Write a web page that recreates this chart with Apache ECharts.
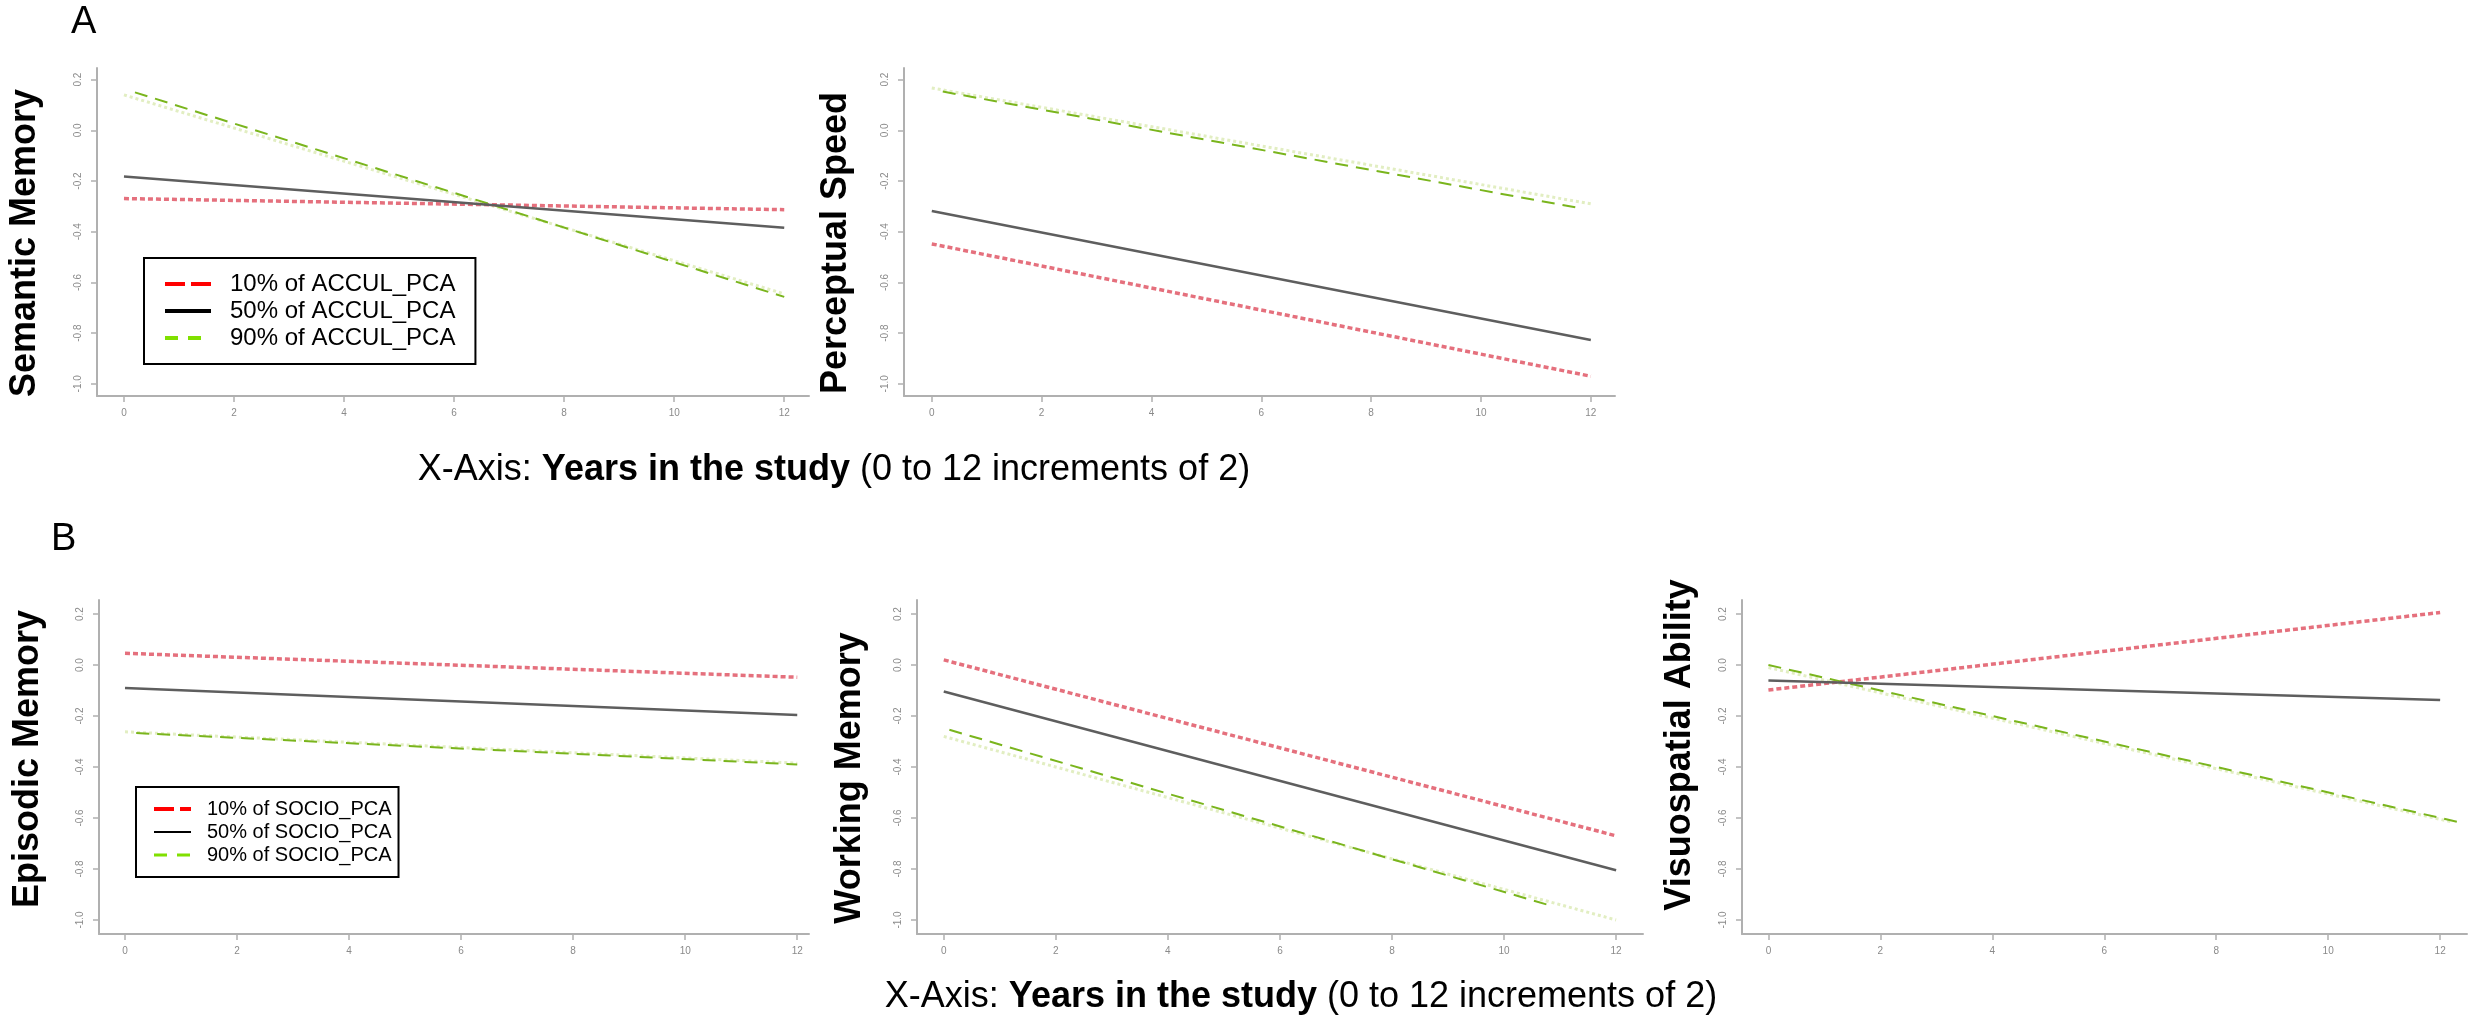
<!DOCTYPE html>
<html>
<head>
<meta charset="utf-8">
<title>Cognitive trajectories</title>
<script src="https://cdn.jsdelivr.net/npm/echarts@6/dist/echarts.min.js"></script>
<style>
  html, body { margin: 0; padding: 0; background: #fff; }
  #main { width: 2479px; height: 1018px; }
</style>
</head>
<body>
<div id="main"></div>
<script>
// tick labels
var xTicks = [0, 2, 4, 6, 8, 10, 12];
var yTicks = [0.2, 0, -0.2, -0.4, -0.6, -0.8, -1.0];

// legend names
var accNames = ['10% of ACCUL_PCA', '50% of ACCUL_PCA', '90% of ACCUL_PCA'];
var socNames = ['10% of SOCIO_PCA', '50% of SOCIO_PCA', '90% of SOCIO_PCA'];

// panel A: [year, value]
var semantic10 = [[0, -0.269], [12, -0.313]];
var semantic50 = [[0, -0.182], [12, -0.384]];
var semantic90 = [[0.2, 0.150], [12, -0.657]];
var semantic90band = [[0, 0.140], [12, -0.645]];

var speed10 = [[0, -0.448], [12, -0.970]];
var speed50 = [[0, -0.318], [12, -0.827]];
var speed90 = [[0.2, 0.153], [11.8, -0.307]];
var speed90band = [[0, 0.167], [12, -0.290]];

// panel B
var episodic10 = [[0, 0.046], [12, -0.048]];
var episodic50 = [[0, -0.090], [12, -0.196]];
var episodic90 = [[0.2, -0.267], [12, -0.390]];
var episodic90band = [[0, -0.262], [12, -0.385]];

var working10 = [[0, 0.020], [12, -0.670]];
var working50 = [[0, -0.104], [12, -0.805]];
var working90 = [[0.1, -0.254], [10.87, -0.946]];
var working90band = [[0, -0.280], [12, -1.000]];

var visuo10 = [[0, -0.098], [12, 0.206]];
var visuo50 = [[0, -0.061], [12, -0.137]];
var visuo90 = [[0, 0.000], [12.33, -0.616]];
var visuo90band = [[0, -0.010], [12.2, -0.615]];

var FONT = '"Liberation Sans", Arial, sans-serif';

var myChart = echarts.init(document.getElementById('main'));

// layout of the five plots
var panels = [
  {title: 'Semantic Memory', names: accNames, lines: [semantic10, semantic50, semantic90], band: semantic90band,
   left: 97, top: 68, width: 712, height: 328, xmin: -0.49, xmax: 12.45, ymin: -1.048, ymax: 0.246, lx: 25, ly: 243},
  {title: 'Perceptual Speed', names: accNames, lines: [speed10, speed50, speed90], band: speed90band,
   left: 904, top: 68, width: 711, height: 328, xmin: -0.506, xmax: 12.44, ymin: -1.048, ymax: 0.246, lx: 836, ly: 243},
  {title: 'Episodic Memory', names: socNames, lines: [episodic10, episodic50, episodic90], band: episodic90band,
   left: 99, top: 600, width: 710, height: 334, xmin: -0.464, xmax: 12.21, ymin: -1.055, ymax: 0.255, lx: 28, ly: 759},
  {title: 'Working Memory', names: socNames, lines: [working10, working50, working90], band: working90band,
   left: 917, top: 600, width: 726, height: 334, xmin: -0.478, xmax: 12.48, ymin: -1.055, ymax: 0.255, lx: 850, ly: 778},
  {title: 'Visuospatial Ability', names: socNames, lines: [visuo10, visuo50, visuo90], band: visuo90band,
   left: 1742, top: 600, width: 725, height: 334, xmin: -0.472, xmax: 12.48, ymin: -1.055, ymax: 0.255, lx: 1680, ly: 745}
];

var lineStyles = [
  {color: '#e5707d', width: 3.5, type: [5, 3]},   // 10%
  {color: '#5e5e5e', width: 2.5, type: 'solid'},  // 50%
  {color: '#7ab51d', width: 2, type: [13, 8]}     // 90%
];

var grids = [], xAxes = [], yAxes = [], series = [], graphics = [];

panels.forEach(function (p, i) {
  grids.push({left: p.left, top: p.top, width: p.width, height: p.height, containLabel: false});
  xAxes.push({
    gridIndex: i, type: 'value', min: p.xmin, max: p.xmax,
    splitLine: {show: false},
    axisLine: {onZero: false, lineStyle: {color: '#b0b0b0', width: 2}},
    axisTick: {customValues: xTicks, length: 6, lineStyle: {color: '#b0b0b0', width: 1.5}},
    axisLabel: {customValues: xTicks, fontSize: 10, color: '#8a8a8a', margin: 12, fontFamily: FONT}
  });
  yAxes.push({
    gridIndex: i, type: 'value', min: p.ymin, max: p.ymax,
    splitLine: {show: false},
    axisLine: {onZero: false, lineStyle: {color: '#b0b0b0', width: 2}},
    axisTick: {customValues: yTicks, length: 6, lineStyle: {color: '#b0b0b0', width: 1.5}},
    axisLabel: {
      customValues: yTicks, rotate: 90, fontSize: 10, color: '#8a8a8a', margin: 14, fontFamily: FONT,
      formatter: function (v) { return v.toFixed(1); }
    }
  });
  // faint dotted companion of the 90% line
  series.push({
    name: 'band', type: 'line', xAxisIndex: i, yAxisIndex: i, data: p.band,
    symbol: 'none', silent: true, z: 1,
    lineStyle: {color: '#e2eec2', width: 3, type: [3, 3]}
  });
  p.lines.forEach(function (d, k) {
    series.push({
      name: p.names[k], type: 'line', xAxisIndex: i, yAxisIndex: i, data: d,
      symbol: 'none', z: 2 + (k === 1 ? 1 : 0),
      lineStyle: lineStyles[k]
    });
  });
  graphics.push({
    type: 'text', x: p.lx, y: p.ly, rotation: Math.PI / 2,
    style: {text: p.title, fill: '#000', fontSize: 36, fontWeight: 'bold', fontFamily: FONT,
            align: 'center', verticalAlign: 'middle'}
  });
});

// captions and panel letters
var capRich = {
  n: {fontSize: 36, fontFamily: FONT, fill: '#000'},
  b: {fontSize: 36, fontFamily: FONT, fontWeight: 'bold', fill: '#000'}
};
var capText = '{n|X-Axis: }{b|Years in the study}{n| (0 to 12 increments of 2)}';
graphics.push({type: 'text', x: 834, y: 470, style: {text: capText, rich: capRich, align: 'center', verticalAlign: 'middle'}});
graphics.push({type: 'text', x: 1301, y: 997, style: {text: capText, rich: capRich, align: 'center', verticalAlign: 'middle'}});
graphics.push({type: 'text', x: 71, y: 23, style: {text: 'A', fill: '#000', fontSize: 38, fontFamily: FONT, align: 'left', verticalAlign: 'middle'}});
graphics.push({type: 'text', x: 51, y: 540, style: {text: 'B', fill: '#000', fontSize: 38, fontFamily: FONT, align: 'left', verticalAlign: 'middle'}});

function legendData(names, widths) {
  var colors = ['#ff0000', '#000000', '#80e000'];
  var types = [[20, 6], 'solid', [13, 10]];
  return names.map(function (n, k) {
    return {
      name: n, icon: 'inherit',
      lineStyle: {color: colors[k], width: widths[k], type: types[k]},
      itemStyle: {color: colors[k], opacity: 0}
    };
  });
}

option = {
  backgroundColor: '#ffffff',
  animation: false,
  grid: grids,
  xAxis: xAxes,
  yAxis: yAxes,
  legend: [
    {
      data: legendData(accNames, [4, 4, 4]),
      orient: 'vertical', left: 144, top: 258, icon: 'inherit',
      padding: [14, 20, 14, 19], itemGap: 3, itemWidth: 46, itemHeight: 14,
      borderColor: '#000', borderWidth: 2, backgroundColor: '#fff',
      textStyle: {fontSize: 24, color: '#000', fontFamily: FONT, padding: [0, 0, 0, 14]}
    },
    {
      data: legendData(socNames, [4, 2, 3]),
      orient: 'vertical', left: 136, top: 787, icon: 'inherit',
      padding: [12, 7, 12, 16], itemGap: 3, itemWidth: 37, itemHeight: 12,
      borderColor: '#000', borderWidth: 2, backgroundColor: '#fff',
      textStyle: {fontSize: 20, color: '#000', fontFamily: FONT, padding: [0, 0, 0, 11]}
    }
  ],
  graphic: graphics,
  series: series
};

myChart.setOption(option);
window.onresize = myChart.resize;
</script>
</body>
</html>
